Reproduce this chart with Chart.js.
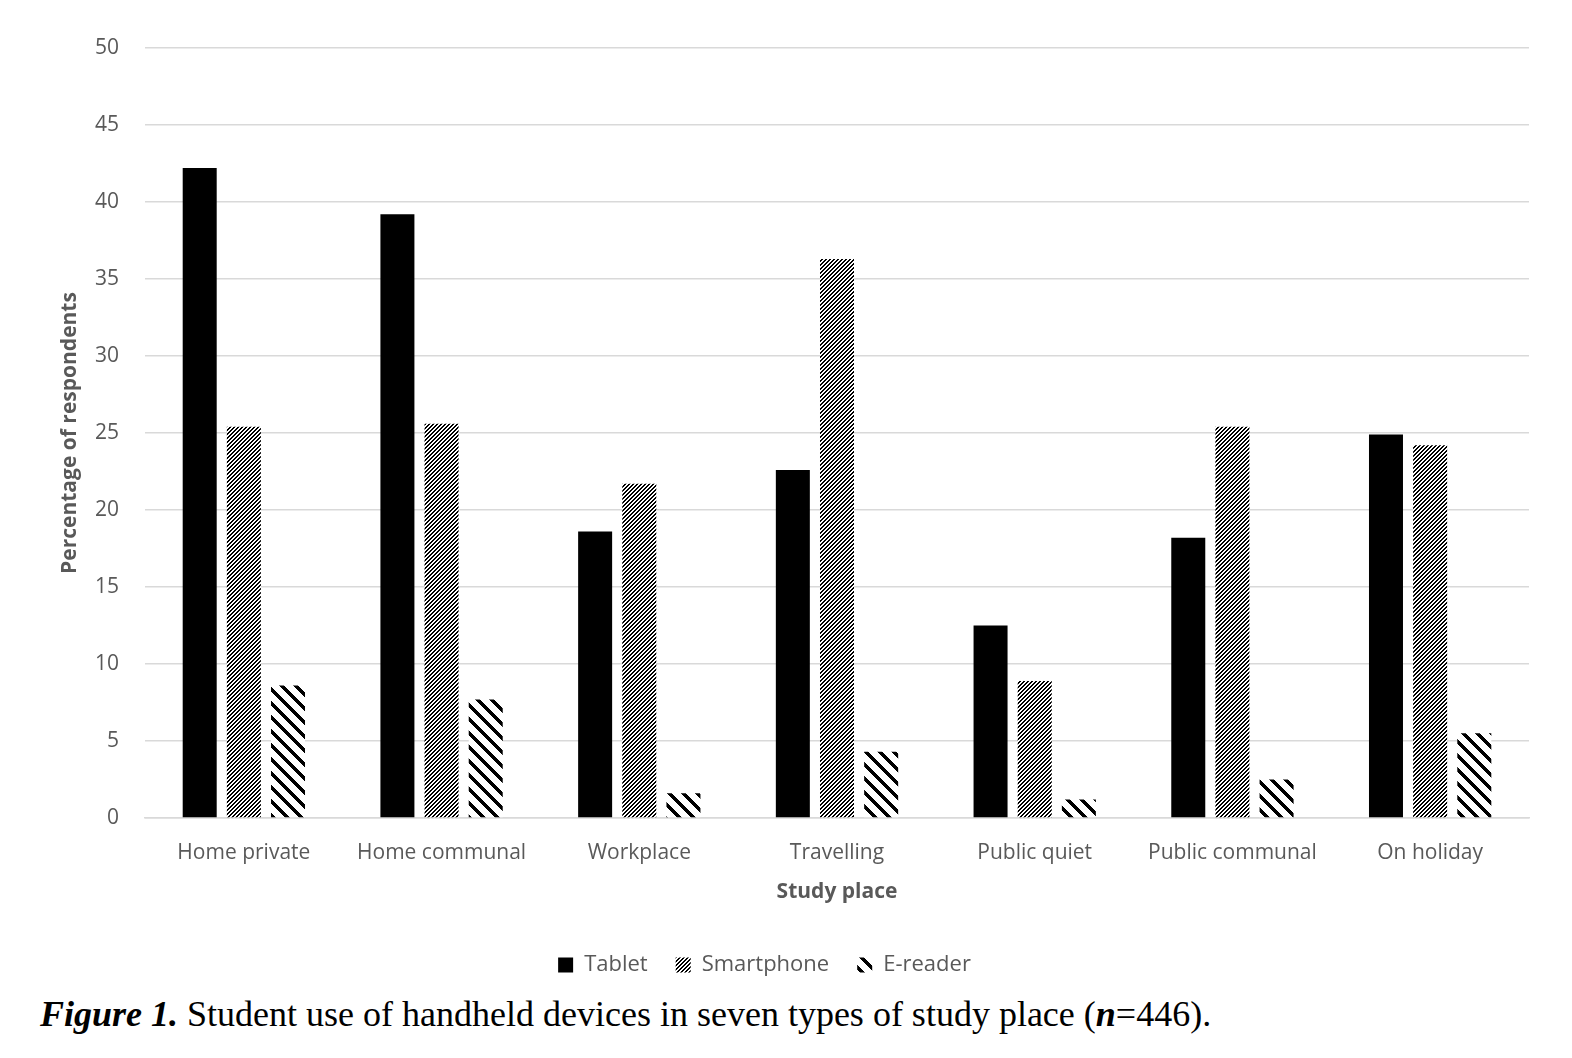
<!DOCTYPE html>
<html>
<head>
<meta charset="utf-8">
<script src="https://cdn.jsdelivr.net/npm/chart.js@4.4.1/dist/chart.umd.min.js"></script>
<style>
  html, body { margin: 0; padding: 0; background: #fff; }
  #wrap { position: absolute; left: 0; top: 0; width: 1572px; height: 989px; }
  #caption { position: absolute; left: 40px; top: 993px; font-family: "Liberation Serif", serif; font-size: 36px; color: #000; white-space: nowrap; }
</style>
</head>
<body>
<div id="wrap"><canvas id="c"></canvas></div>
<div id="caption"><b><i>Figure 1.</i></b> Student use of handheld devices in seven types of study place (<b><i>n</i></b>=446).</div>
<script>
const categories = ["Home private", "Home communal", "Workplace", "Travelling", "Public quiet", "Public communal", "On holiday"];
const tablet = [42.2, 39.2, 18.6, 22.6, 12.5, 18.2, 24.9];
const smartphone = [25.4, 25.6, 21.7, 36.3, 8.9, 25.4, 24.2];
const ereader = [8.6, 7.7, 1.6, 4.3, 1.2, 2.5, 5.5];
const seriesNames = ["Tablet", "Smartphone", "E-reader"];
const yTicks = [0, 5, 10, 15, 20, 25, 30, 35, 40, 45, 50];

function makePattern(size, on) {
  const c = document.createElement('canvas');
  c.width = size; c.height = size;
  const x = c.getContext('2d');
  const img = x.createImageData(size, size);
  for (let j = 0; j < size; j++) {
    for (let i = 0; i < size; i++) {
      const k = (j * size + i) * 4;
      const v = on(i, j) ? 0 : 255;
      img.data[k] = v; img.data[k + 1] = v; img.data[k + 2] = v; img.data[k + 3] = 255;
    }
  }
  x.putImageData(img, 0, 0);
  return x.createPattern(c, 'repeat');
}
const smartPattern = makePattern(4, (i, j) => ((i + j) % 4) < 2);
const ePattern = makePattern(14, (i, j) => (((i - j) % 14) + 14) % 14 < 5);

const gray = '#595959';
const fontFam = '"Open Sans", sans-serif';

new Chart(document.getElementById('c'), {
  type: 'bar',
  data: {
    labels: categories,
    datasets: [
      { label: seriesNames[0], data: tablet, backgroundColor: '#000', borderWidth: 0 },
      { label: seriesNames[1], data: smartphone, backgroundColor: smartPattern, borderWidth: 0 },
      { label: seriesNames[2], data: ereader, backgroundColor: ePattern, borderWidth: 0 }
    ]
  },
  options: {
    responsive: true,
    maintainAspectRatio: false,
    animation: false,
    devicePixelRatio: 1,
    datasets: { bar: { categoryPercentage: 0.67, barPercentage: 0.77 } },
    layout: { padding: { top: 48, right: 43, bottom: 3, left: 0 } },
    plugins: {
      tooltip: { enabled: false },
      legend: {
        position: 'bottom',
        labels: { color: gray, font: { family: fontFam, size: 22 }, boxWidth: 15, boxHeight: 15, padding: 28 }
      }
    },
    scales: {
      x: {
        grid: { display: false, drawTicks: false },
        border: { display: true, color: '#d9d9d9', width: 1.5 },
        ticks: { color: gray, font: { family: fontFam, size: 21 }, padding: 22, maxRotation: 0, autoSkip: false },
        title: { display: true, text: 'Study place', color: gray, font: { family: fontFam, size: 21, weight: 'bold' }, padding: { top: 0, bottom: 21 } },
        afterFit: (s) => { s.height = 108; }
      },
      y: {
        min: 0, max: 50,
        afterBuildTicks: (s) => { s.ticks = yTicks.map(v => ({ value: v })); },
        grid: { color: '#d9d9d9', lineWidth: 1.5, drawTicks: false },
        border: { display: false },
        ticks: { color: gray, font: { family: fontFam, size: 21 }, padding: 26 },
        title: { display: true, text: 'Percentage of respondents', color: gray, font: { family: fontFam, size: 21, weight: 'bold' }, padding: { top: 57, bottom: 0 } },
        afterFit: (s) => { s.width = 145; }
      }
    }
  }
});
</script>
</body>
</html>
